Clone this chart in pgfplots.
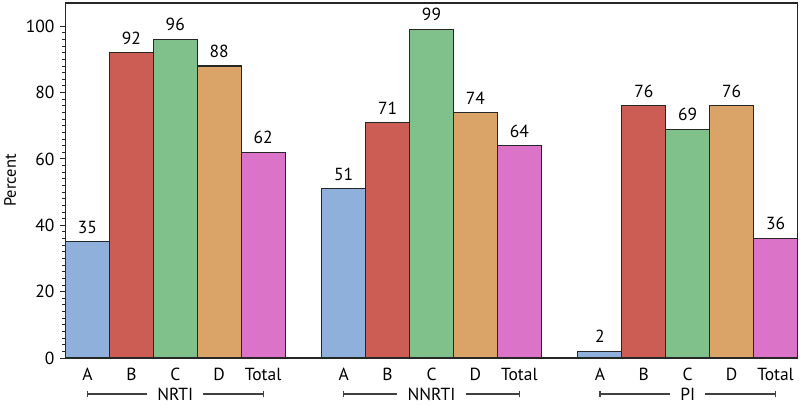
\documentclass[border=0pt]{standalone}
\usepackage{fontspec}
\setmainfont{PT Sans}
\usepackage{pgfplots}
\pgfplotsset{compat=1.18}

\definecolor{barA}{RGB}{143,176,219}
\definecolor{barB}{RGB}{204,93,84}
\definecolor{barC}{RGB}{128,192,138}
\definecolor{barD}{RGB}{218,164,104}
\definecolor{barT}{RGB}{219,116,200}

\newcommand{\lbl}{\fontsize{17.5bp}{20bp}\selectfont}

\pgfplotsset{
  bars/.style={ybar, bar width=1, bar shift=0pt, draw=black!85, line width=1.1bp,
    nodes near coords,
    every node near coord/.append style={font=\lbl, text=black, yshift=2bp}},
}

% bracket under a group of bars, from first to last bar centre
\newcommand{\group}[3]{%
  \node[inner xsep=10bp, inner ysep=0pt, font=\lbl] (g) at ([yshift=-36bp]axis cs:{(#1+#2)/2},0) {#3};
  \draw[black!75, line width=1.2bp] ([yshift=-36bp]axis cs:#1,0) -- (g.west);
  \draw[black!75, line width=1.2bp] (g.east) -- ([yshift=-36bp]axis cs:#2,0);
  \draw[black!75, line width=1.2bp] ([yshift=-33bp]axis cs:#1,0) -- ([yshift=-39bp]axis cs:#1,0);
  \draw[black!75, line width=1.2bp] ([yshift=-33bp]axis cs:#2,0) -- ([yshift=-39bp]axis cs:#2,0);
}

\begin{document}
\lbl
\begin{tikzpicture}
\path[use as bounding box] (-65.5bp,-47bp) rectangle (734.5bp,358bp);
\begin{axis}[
  scale only axis,
  width=732bp, height=355bp,
  clip=false,
  xmin=0, xmax=16.67,
  ymin=0, ymax=107,
  axis line style={black!85, line width=1.2bp},
  tick align=outside,
  tick pos=left,
  ytick={0,20,40,60,80,100},
  minor y tick num=9,
  major tick length=5bp,
  minor tick length=3bp,
  every tick/.style={black!85, line width=1bp},
  xtick={0.5,1.5,2.5,3.5,4.5,6.335,7.335,8.335,9.335,10.335,12.17,13.17,14.17,15.17,16.17},
  xticklabels={A,B,C,D,Total,A,B,C,D,Total,A,B,C,D,Total},
  x tick style={draw=none},
  xticklabel style={yshift=1bp},
  ticklabel style={font=\lbl},
  /pgf/number format/assume math mode=true,
  ylabel={Percent},
  ylabel style={at={(axis description cs:-0.0758,0.5)}, anchor=center,
    font=\fontsize{16.5bp}{18bp}\selectfont},
]
\addplot[bars, fill=barA] coordinates {(0.5,35) (6.335,51) (12.17,2)};
\addplot[bars, fill=barB] coordinates {(1.5,92) (7.335,71) (13.17,76)};
\addplot[bars, fill=barC] coordinates {(2.5,96) (8.335,99) (14.17,69)};
\addplot[bars, fill=barD] coordinates {(3.5,88) (9.335,74) (15.17,76)};
\addplot[bars, fill=barT] coordinates {(4.5,62) (10.335,64) (16.17,36)};
\group{0.5}{4.5}{NRTI}
\group{6.335}{10.335}{NNRTI}
\group{12.17}{16.17}{PI}
\end{axis}
\end{tikzpicture}
\end{document}
